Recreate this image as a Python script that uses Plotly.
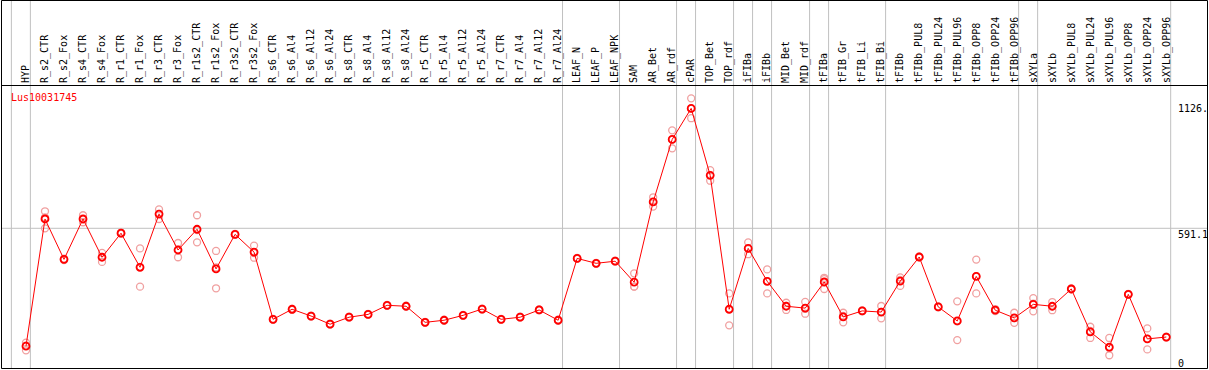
import plotly.graph_objects as go

categories = [
    "HYP", "R_s2_CTR", "R_s2_Fox", "R_s4_CTR", "R_s4_Fox", "R_r1_CTR", "R_r1_Fox",
    "R_r3_CTR", "R_r3_Fox", "R_r1s2_CTR", "R_r1s2_Fox", "R_r3s2_CTR", "R_r3s2_Fox",
    "R_s6_CTR", "R_s6_Al4", "R_s6_Al12", "R_s6_Al24", "R_s8_CTR", "R_s8_Al4",
    "R_s8_Al12", "R_s8_Al24", "R_r5_CTR", "R_r5_Al4", "R_r5_Al12", "R_r5_Al24",
    "R_r7_CTR", "R_r7_Al4", "R_r7_Al12", "R_r7_Al24", "LEAF_N", "LEAF_P", "LEAF_NPK",
    "SAM", "AR_Bet", "AR_rdf", "cPAR", "TOP_Bet", "TOP_rdf", "iFIBa", "iFIBb",
    "MID_Bet", "MID_rdf", "tFIBa", "tFIB_Gr", "tFIB_Li", "tFIB_Bi", "tFIBb",
    "tFIBb_PUL8", "tFIBb_PUL24", "tFIBb_PUL96", "tFIBb_OPP8", "tFIBb_OPP24",
    "tFIBb_OPP96", "sXYLa", "sXYLb", "sXYLb_PUL8", "sXYLb_PUL24", "sXYLb_PUL96",
    "sXYLb_OPP8", "sXYLb_OPP24", "sXYLb_OPP96",
]

mean_values = [
    86, 631, 458, 631, 467, 570, 424, 652, 498, 587, 417, 565, 489,
    201, 244, 215, 180, 210, 222, 261, 257, 188, 197, 218, 245, 201, 210, 241, 197,
    462, 441, 450, 360, 704, 972, 1105, 818, 244, 505, 364,
    257, 249, 361, 211, 237, 232, 365, 468, 254, 194, 385, 240, 207,
    265, 257, 331, 147, 82, 308, 117, 125,
]

rep1 = [
    101, 664, 461, 647, 486, 572, 505, 672, 528, 647, 494, 567, 517,
    203, 246, 217, 182, 212, 224, 263, 259, 190, 199, 220, 247, 203, 212, 243, 199,
    464, 443, 452, 398, 724, 1011, 1148, 840, 312, 531, 415,
    272, 276, 379, 229, 239, 258, 381, 470, 256, 278, 457, 245, 229,
    292, 275, 333, 169, 121, 310, 162, 127,
]
rep2 = [
    68, 591, 455, 617, 447, 568, 341, 631, 467, 531, 334, 563, 465,
    199, 242, 213, 178, 208, 220, 259, 255, 186, 195, 216, 243, 199, 208, 239, 195,
    460, 439, 448, 341, 684, 934, 1063, 795, 175, 480, 312,
    241, 225, 331, 188, 235, 205, 344, 466, 252, 112, 312, 236, 186,
    235, 240, 329, 121, 47, 306, 72, 123,
]
rep3 = [
    88, 638, 458, 630, 468, 570, 426, 653, 499, 583, 423, 565, 485,
    201, 244, 215, 180, 210, 222, 261, 257, 188, 197, 218, 245, 201, 210, 241, 197,
    462, 441, 450, 341, 704, 971, 1104, 819, 245, 504, 365,
    258, 246, 373, 216, 237, 233, 370, 468, 254, 192, 386, 239, 206,
    268, 256, 331, 151, 78, 308, 117, 125,
]

gene_name = "Lus10031745"
y_label_values = [1126, 591.1, 0]
y_label_texts = ["1126.", "591.1", "0"]
reference_line = 591.1
# separators are drawn right after these categories ("" = before the first one)
separator_after = ["", "HYP", "R_r7_Al24", "LEAF_NPK", "AR_rdf", "cPAR", "TOP_rdf",
                   "iFIBa", "iFIBb", "MID_rdf", "tFIBa", "tFIB_Bi", "tFIBb_OPP96",
                   "sXYLa", "sXYLb_OPP96"]

FONT = "DejaVu Sans Mono"
W, H = 1209, 370
ML, MR, MT, MB = 2, 2, 86, 1
PW, PH = W - ML - MR, H - MT - MB

xs = list(range(len(categories)))

fig = go.Figure()

rep_x, rep_y = [], []
for r in (rep1, rep2, rep3):
    rep_x += xs
    rep_y += r
fig.add_trace(go.Scatter(
    x=rep_x, y=rep_y, mode="markers",
    marker=dict(symbol="circle-open", size=7, color="#F0A0A0", line=dict(width=1.3, color="#F0A0A0")),
    hoverinfo="skip", showlegend=False,
))
fig.add_trace(go.Scatter(
    x=xs, y=mean_values, mode="lines+markers",
    line=dict(color="#FF0000", width=1),
    marker=dict(symbol="circle-open", size=7, color="#FF0000", line=dict(width=1.8, color="#FF0000")),
    showlegend=False,
))

shapes = []
pos = {c: i for i, c in enumerate(categories)}
top_paper = 1 + (MT - 0.5) / PH
for name in separator_after:
    idx = pos[name] if name else -1
    shapes.append(dict(type="line", xref="x", yref="paper", x0=idx + 0.23, x1=idx + 0.23,
                       y0=0, y1=top_paper, line=dict(color="#C0C0C0", width=1), layer="below"))
shapes.append(dict(type="line", xref="paper", yref="y", x0=0, x1=1,
                   y0=reference_line, y1=reference_line, line=dict(color="#C0C0C0", width=1), layer="below"))
# header separator and frame
shapes.append(dict(type="line", xref="paper", yref="paper", x0=-0.5 / PW, x1=1 + 0.5 / PW,
                   y0=1 + 0.5 / PH, y1=1 + 0.5 / PH, line=dict(color="black", width=1)))
shapes.append(dict(type="rect", xref="paper", yref="paper", x0=-0.5 / PW, x1=1 + 0.5 / PW,
                   y0=0.5 / PH, y1=top_paper, line=dict(color="black", width=1)))

annotations = [dict(text=gene_name, xref="paper", yref="paper", x=(9 - ML) / PW,
                    y=(H - MB - 97) / PH, xanchor="left", yanchor="middle", showarrow=False,
                    font=dict(family=FONT, size=10, color="#FF0000"))]
label_shift = {1126: 2, 591.1: 0, 0: -4}
for v, t in zip(y_label_values, y_label_texts):
    annotations.append(dict(text=t, xref="paper", yref="y", x=(1177 - ML) / PW, y=v,
                            xanchor="left", yanchor="bottom" if v == 0 else "top",
                            yshift=label_shift[v],
                            showarrow=False, borderpad=0,
                            font=dict(family=FONT, size=10, color="black")))

fig.update_layout(
    width=W, height=H,
    margin=dict(l=ML, r=MR, t=MT, b=MB),
    paper_bgcolor="white", plot_bgcolor="white",
    shapes=shapes, annotations=annotations,
    xaxis=dict(range=[-1.2628, 62.141], side="top", tickmode="array", tickvals=xs,
               ticktext=categories, tickangle=-90, showgrid=False, zeroline=False,
               showline=False, ticks="", ticklabelstandoff=2,
               tickfont=dict(family=FONT, size=10, color="black")),
    yaxis=dict(range=[-12, 1201], showgrid=False, zeroline=False, showticklabels=False,
               showline=False, ticks=""),
)

fig.write_html("out.html", config={"displayModeBar": False},
               post_script="document.body.style.margin='0px';document.body.style.overflow='hidden';")
